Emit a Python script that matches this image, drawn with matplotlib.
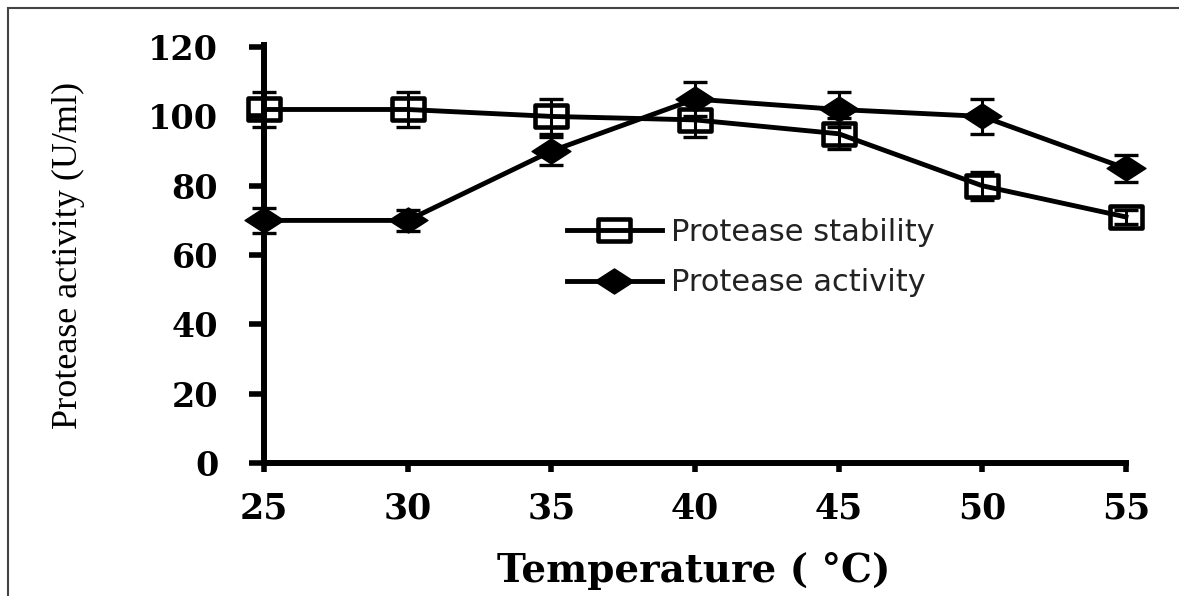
"""
Protease activity / stability vs temperature
"""
import numpy as np
import matplotlib
matplotlib.use("Agg")
import matplotlib.pyplot as plt
from matplotlib.path import Path
from matplotlib.patches import Rectangle

# Data
temperature = [25, 30, 35, 40, 45, 50, 55]
stability = [102, 102, 100, 99, 95, 80, 71]
stability_err = [5, 5, 5, 5, 4.5, 4, 2]
activity = [70, 70, 90, 105, 102, 100, 85]
activity_err = [3.5, 3, 4, 5, 5, 5, 4]

yticks = [0, 20, 40, 60, 80, 100, 120]

# wide markers (original figure is stretched horizontally)
sq = Path([(-1.4, -1), (1.4, -1), (1.4, 1), (-1.4, 1), (-1.4, -1)],
          [Path.MOVETO, Path.LINETO, Path.LINETO, Path.LINETO, Path.CLOSEPOLY])
dia = Path([(0, 1), (1.55, 0), (0, -1), (-1.55, 0), (0, 1)],
           [Path.MOVETO, Path.LINETO, Path.LINETO, Path.LINETO, Path.CLOSEPOLY])

fig = plt.figure(figsize=(11.79, 5.96), dpi=100)
ax = fig.add_axes([0.224, 0.223, 0.731, 0.698])

# error bars
for y, e in [(stability, stability_err), (activity, activity_err)]:
    eb = ax.errorbar(temperature, y, yerr=e, fmt='none', ecolor='black',
                     elinewidth=2.2, capsize=8.3, capthick=2.4, zorder=2)
    for art in eb.lines[1] + eb.lines[2]:
        art.set_clip_on(False)

ax.plot(temperature, stability, color='black', lw=3.5, marker=sq,
        markersize=23, markerfacecolor='none', markeredgewidth=3.3,
        label='Protease stability', zorder=3, clip_on=False)
ax.plot(temperature, activity, color='black', lw=3.5, marker=dia,
        markersize=28, markerfacecolor='black', markeredgewidth=1,
        label='Protease activity', zorder=3, clip_on=False)

ax.set_xlim(25, 55)
ax.set_ylim(0, 120)
ax.set_xticks(temperature)
ax.set_yticks(yticks)

for s in ['top', 'right']:
    ax.spines[s].set_visible(False)
for s in ['left', 'bottom']:
    ax.spines[s].set_linewidth(4.3)
ax.spines['left'].set_bounds(0, 120.5)

ax.tick_params(axis='y', direction='out', length=11, width=4, pad=22)
ax.tick_params(axis='x', direction='out', length=6.5, width=4, pad=14)

for lab in ax.get_yticklabels():
    lab.set_family('DejaVu Serif')
    lab.set_weight('bold')
    lab.set_fontsize(24)
for lab in ax.get_xticklabels():
    lab.set_family('DejaVu Serif')
    lab.set_weight('bold')
    lab.set_fontsize(25)

fig.text(0.058, 1 - 255/596, 'Protease activity (U/ml)', rotation=90,
         ha='center', va='center', family='Liberation Serif', fontsize=26)
fig.text(0.5887, 0.042, 'Temperature ( °C)', ha='center', va='center',
         family='DejaVu Serif', weight='bold', fontsize=28)

leg = ax.legend(loc='upper left', bbox_to_anchor=(0.468, 0.66),
                bbox_transform=fig.transFigure, frameon=False,
                prop={'family': 'DejaVu Sans', 'size': 22}, handlelength=3.1,
                handletextpad=0.3, labelspacing=0.7, borderpad=0)
for t in leg.get_texts():
    t.set_color('#222222')

# outer frame of the original image
fig.patches.append(Rectangle((8/1179, -0.1), 1.2, 1 - 8/596 + 0.1,
                             transform=fig.transFigure, fill=False,
                             lw=1.5, edgecolor='#444444'))

fig.savefig('out.png', dpi=100)
